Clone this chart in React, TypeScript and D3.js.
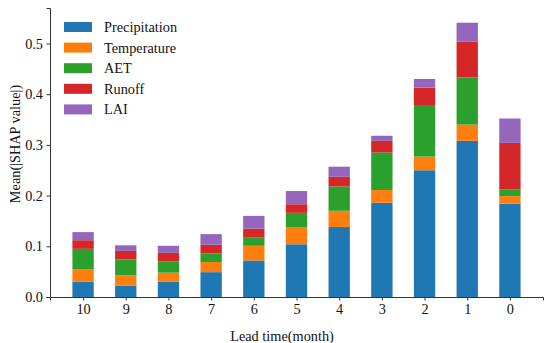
import React, { useEffect, useRef } from "react";
import * as d3 from "d3";

const leadTimes = ["10", "9", "8", "7", "6", "5", "4", "3", "2", "1", "0"];
const seriesNames = ["Precipitation", "Temperature", "AET", "Runoff", "LAI"];
const seriesColors = ["#1f77b4", "#ff7f0e", "#2ca02c", "#d62728", "#9467bd"];

const precipitation = [0.030, 0.022, 0.030, 0.049, 0.072, 0.104, 0.138, 0.186, 0.250, 0.308, 0.184];
const temperature = [0.025, 0.021, 0.018, 0.020, 0.029, 0.034, 0.032, 0.025, 0.027, 0.032, 0.015];
const aet = [0.040, 0.031, 0.022, 0.017, 0.017, 0.028, 0.048, 0.074, 0.100, 0.093, 0.013];
const runoff = [0.017, 0.017, 0.017, 0.017, 0.017, 0.017, 0.019, 0.023, 0.036, 0.071, 0.092];
const lai = [0.016, 0.011, 0.014, 0.021, 0.025, 0.026, 0.020, 0.010, 0.017, 0.037, 0.048];

const yTicks = [0, 0.1, 0.2, 0.3, 0.4, 0.5];

const App = () => {
  const ref = useRef<SVGSVGElement>(null);

  useEffect(() => {
    const svg = d3.select(ref.current);
    svg.selectAll("*").remove();

    const width = 550;
    const height = 343;
    const margin = { top: 8, right: 7, bottom: 46, left: 50 };
    const innerW = width - margin.left - margin.right;
    const innerH = height - margin.top - margin.bottom;
    const font = "'Liberation Serif', 'Times New Roman', serif";
    const fs = "14.3px";

    const series = [precipitation, temperature, aet, runoff, lai];
    const rows = leadTimes.map((t, i) => {
      const row: any = { t };
      seriesNames.forEach((s, k) => (row[s] = series[k][i]));
      return row;
    });
    const stacked = d3.stack<any>().keys(seriesNames)(rows);

    const x = d3.scaleLinear().domain([-0.775, leadTimes.length - 1 + 0.775]).range([0, innerW]);
    const y = d3.scaleLinear().domain([0, 0.57]).range([innerH, 0]);
    const barW = x(0.5) - x(0);

    const g = svg.append("g").attr("transform", `translate(${margin.left},${margin.top})`);

    stacked.forEach((layer, k) => {
      g.append("g")
        .selectAll("rect")
        .data(layer)
        .enter()
        .append("rect")
        .attr("x", (d, i) => x(i) - barW / 2)
        .attr("y", d => y(d[1]))
        .attr("width", barW)
        .attr("height", d => y(d[0]) - y(d[1]))
        .attr("fill", seriesColors[k]);
    });

    const xAxis = g.append("g")
      .attr("transform", `translate(0,${innerH})`)
      .call(
        d3.axisBottom(x)
          .tickValues(d3.range(leadTimes.length))
          .tickFormat((d: any) => leadTimes[d])
          .tickSize(3.5)
          .tickPadding(3.5)
      );
    const yAxis = g.append("g")
      .call(
        d3.axisLeft(y)
          .tickValues(yTicks)
          .tickFormat(d3.format(".1f"))
          .tickSize(3.5)
          .tickPadding(3.5)
      );
    [xAxis, yAxis].forEach(a => {
      a.attr("font-size", null).attr("font-family", null);
      a.select(".domain").attr("stroke", "#333").attr("stroke-width", 1);
      a.selectAll(".tick line").attr("stroke", "#333");
      a.selectAll(".tick text")
        .attr("fill", "#111")
        .style("font-family", font)
        .style("font-size", fs);
    });

    // axis titles sit a little off-centre in the original
    g.append("text")
      .attr("x", 232)
      .attr("y", innerH + 44)
      .attr("text-anchor", "middle")
      .style("font-family", font)
      .style("font-size", fs)
      .attr("fill", "#111")
      .text("Lead time(month)");

    g.append("text")
      .attr("transform", `translate(${-30},136) rotate(-90)`)
      .attr("text-anchor", "middle")
      .style("font-family", font)
      .style("font-size", fs)
      .attr("fill", "#111")
      .text("Mean(|SHAP value|)");

    const legend = g.append("g").attr("transform", `translate(14,${27 - margin.top})`);
    seriesNames.forEach((s, k) => {
      const row = legend.append("g").attr("transform", `translate(0,${k * 20.6})`);
      row.append("rect")
        .attr("x", 0)
        .attr("y", -5)
        .attr("width", 28)
        .attr("height", 10)
        .attr("fill", seriesColors[k]);
      row.append("text")
        .attr("x", 40)
        .attr("y", 0)
        .attr("dy", "0.35em")
        .style("font-family", font)
        .style("font-size", fs)
        .attr("fill", "#111")
        .text(s);
    });
  }, []);

  return (
    <svg
      ref={ref}
      width={550}
      height={343}
      style={{ position: "absolute", left: 0, top: 0, background: "#fff" }}
    ></svg>
  );
};

export default App;
